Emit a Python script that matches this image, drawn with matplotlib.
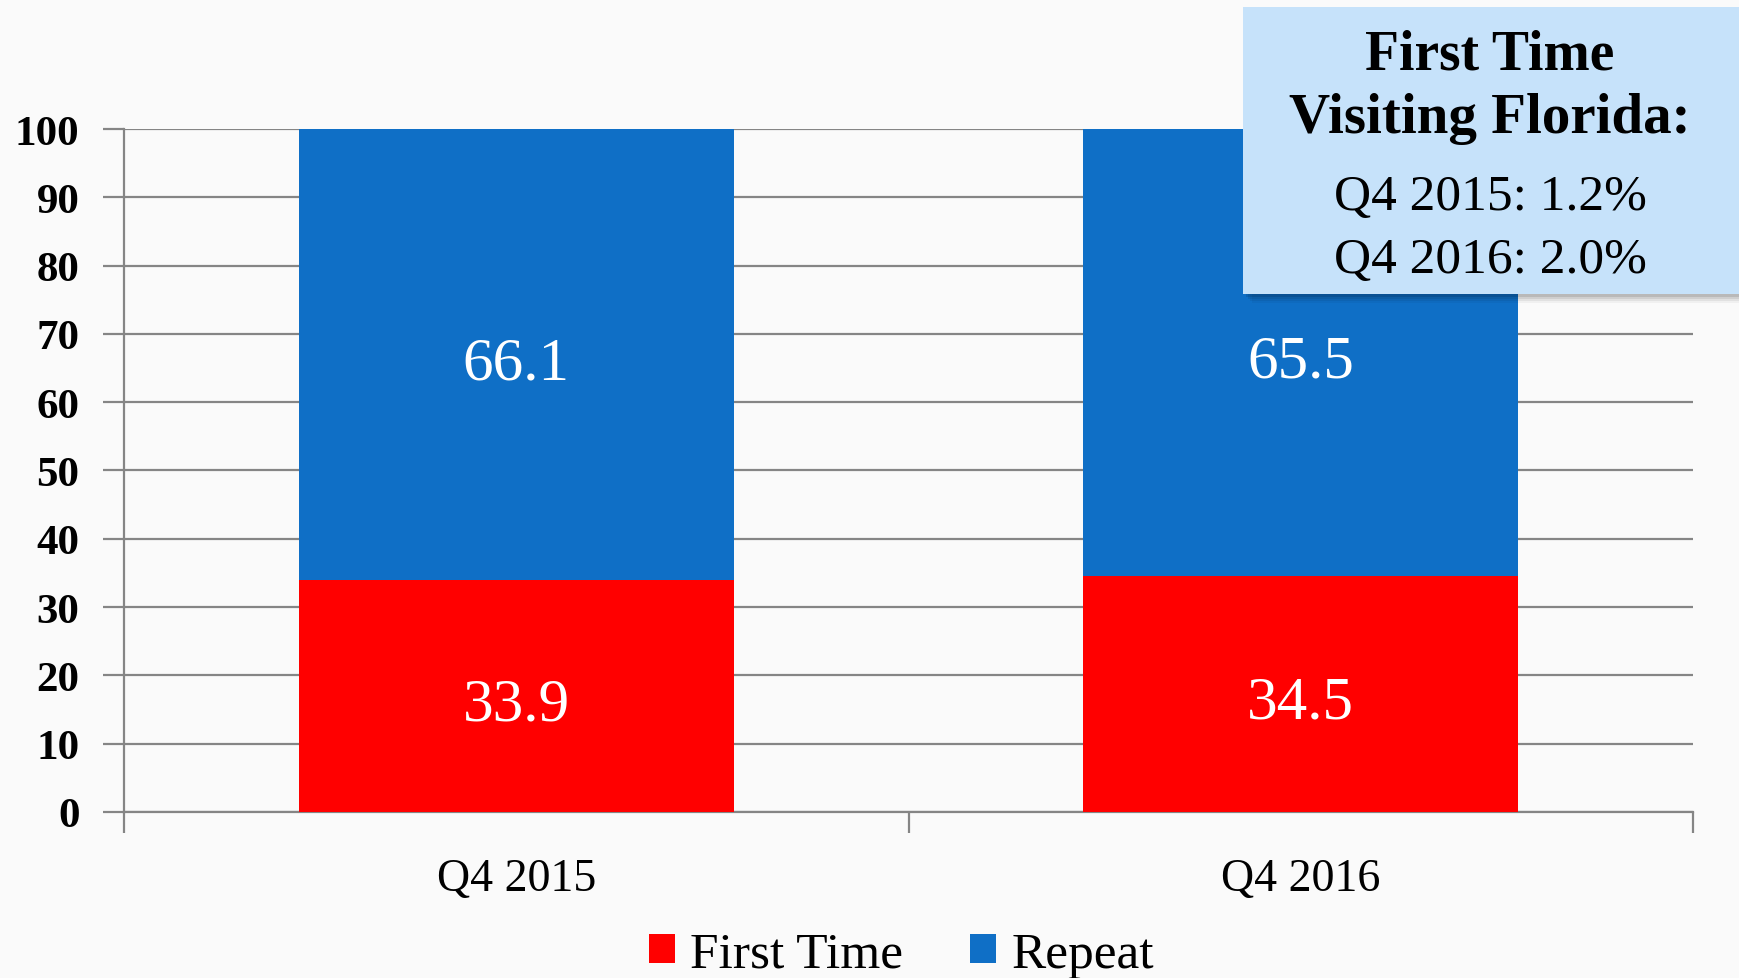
import matplotlib.pyplot as plt
from matplotlib.patches import Rectangle
import numpy as np

plt.rcParams['font.family'] = ['Liberation Serif', 'DejaVu Serif']

# data
quarters = ['Q4 2015', 'Q4 2016']
first_time = [33.9, 34.5]
repeat = [66.1, 65.5]
first_visit_fl = ['Q4 2015: 1.2%', 'Q4 2016: 2.0%']

red = '#FF0000'
blue = '#0F6FC6'
grid_c = '#858585'

fig = plt.figure(figsize=(17.4, 9.79), dpi=100, facecolor='#FAFAFA')
ax = fig.add_axes([0.0713, 0.1696, 0.9017, 0.6976])
ax.set_facecolor('none')

x = np.arange(len(quarters))
w = 0.555
ax.bar(x, first_time, w, color=red, label='First Time', zorder=3)
ax.bar(x, repeat, w, bottom=first_time, color=blue, label='Repeat', zorder=3)

# value labels in the middle of each segment
for i in range(len(quarters)):
    ax.text(x[i], first_time[i] / 2 - 1.3, f'{first_time[i]:.1f}', ha='center', va='center',
            color='white', fontsize=44, zorder=4)
    ax.text(x[i], first_time[i] + repeat[i] / 2 - 1.3, f'{repeat[i]:.1f}', ha='center', va='center',
            color='white', fontsize=44, zorder=4)

ax.set_xlim(-0.5, 1.5)
ax.set_ylim(0, 100)
ax.set_yticks(range(0, 101, 10))
ax.yaxis.grid(True, color=grid_c, linewidth=1.6, zorder=0)
ax.set_axisbelow(True)

# category ticks sit on the boundaries
ax.set_xticks([-0.5, 0.5, 1.5])
ax.set_xticklabels([])
ax.set_xticks(x, minor=True)
ax.set_xticklabels(quarters, minor=True, fontsize=33)
ax.tick_params(axis='x', which='minor', length=0, pad=33)
ax.tick_params(axis='x', which='major', length=15, width=1.6, color=grid_c)
ax.tick_params(axis='y', length=15, width=1.6, color=grid_c, pad=17)
for lab in ax.get_yticklabels():
    lab.set_fontsize(31)
    lab.set_fontweight('bold')

for s in ['top', 'right']:
    ax.spines[s].set_visible(False)
for s in ['left', 'bottom']:
    ax.spines[s].set_color(grid_c)
    ax.spines[s].set_linewidth(1.6)

fig.legend(loc='center', bbox_to_anchor=(0.518, 0.024), bbox_transform=fig.transFigure,
           ncol=2, frameon=False, fontsize=37, handlelength=0.5, handleheight=0.5,
           handletextpad=0.3, columnspacing=1.3, borderpad=0)

# info box with a soft shadow
W, H = 1740, 979
bx0, by0, bx1, by1 = 1243, 8, 1739, 295
for k, a in enumerate([0.10, 0.08, 0.06, 0.04]):
    off = 3 + k * 2
    fig.patches.append(Rectangle(((bx0 + off) / W, 1 - (by1 + off) / H), (bx1 - bx0) / W, (by1 - by0) / H,
                                 transform=fig.transFigure, facecolor='black', alpha=a,
                                 edgecolor='none', zorder=9))
fig.patches.append(Rectangle((bx0 / W, 1 - by1 / H), (bx1 - bx0) / W, (by1 - by0) / H,
                             transform=fig.transFigure, facecolor='#C6E2FA', edgecolor='none', zorder=10))

cx = 1490 / W
fig.text(cx, 1 - 55 / H, 'First Time', ha='center', va='center', fontsize=40,
         fontweight='bold', zorder=11)
fig.text(cx, 1 - 119 / H, 'Visiting Florida:', ha='center', va='center', fontsize=41,
         fontweight='bold', zorder=11)
fig.text(cx, 1 - 198 / H, first_visit_fl[0], ha='center', va='center', fontsize=37, zorder=11)
fig.text(cx, 1 - 261 / H, first_visit_fl[1], ha='center', va='center', fontsize=37, zorder=11)

fig.savefig('out.png', dpi=100, facecolor=fig.get_facecolor())
